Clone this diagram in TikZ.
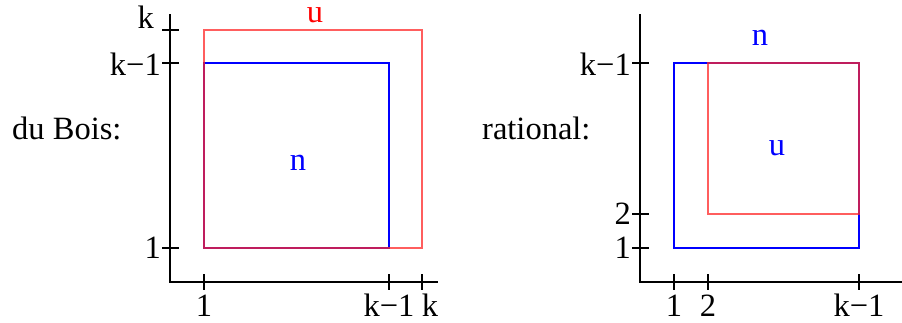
\documentclass[tikz,border=0pt]{standalone}
\usepackage{fontspec}
\setmainfont{Liberation Serif}
\begin{document}
\begin{tikzpicture}[x=1pt,y=-1pt,
  lbl/.style={font=\fontsize{32.5}{38}\selectfont, inner sep=0pt},
  axis/.style={draw=black, line width=1.8pt},
  tick/.style={draw=black, line width=1.5pt},
  bluebox/.style={draw={rgb,255:red,0;green,0;blue,255}, line width=1.6pt},
  redbox/.style={draw={rgb,255:red,255;green,40;blue,40}, line width=1.1pt, draw opacity=0.75}]
\useasboundingbox (0,0) rectangle (902,322);
% ---------- left panel ----------
\coordinate (LO) at (170,282);
\coordinate (LYT) at (170,14);
\coordinate (LXE) at (438,282);
\draw[axis] (LYT) -- (LO) -- (LXE);
\foreach \yy in {30,63,248}{\draw[tick] (162,\yy) -- (179,\yy);}
\foreach \xx in {204,389,422}{\draw[tick] (\xx,274) -- (\xx,290);}
\draw[bluebox] (204,63) rectangle (389,248);
\draw[redbox] (204,30) rectangle (422,248);
\node[lbl, anchor=base east] (lyk) at (154,28) {k};
\node[lbl, anchor=east] (lyk1) at (161,64) {k−1};
\node[lbl, anchor=east] (ly1) at (161,248) {1};
\node[lbl, anchor=base] (lx1) at (204,316) {1};
\node[lbl, anchor=base] (lxk1) at (389,316) {k−1};
\node[lbl, anchor=base] (lxk) at (430,316) {k};
\node[lbl, anchor=base, text height=0.45em, text={rgb,255:red,255;green,0;blue,0}] (lu) at (315,22) {u};
\node[lbl, anchor=base, text={rgb,255:red,0;green,0;blue,255}] (ln) at (298,170) {n};
\node[lbl, anchor=base west] (dub) at (12,139) {du Bois:};
% ---------- right panel ----------
\coordinate (RO) at (640,282);
\coordinate (RYT) at (640,14);
\coordinate (RXE) at (902,282);
\draw[axis] (RYT) -- (RO) -- (RXE);
\foreach \yy in {63,214,248}{\draw[tick] (632,\yy) -- (649,\yy);}
\foreach \xx in {674,708,859}{\draw[tick] (\xx,274) -- (\xx,290);}
\draw[bluebox] (674,63) rectangle (859,248);
\draw[redbox] (708,63) rectangle (859,214);
\node[lbl, anchor=east] (ryk1) at (631,64) {k−1};
\node[lbl, anchor=east] (ry2) at (631,214) {2};
\node[lbl, anchor=east] (ry1) at (631,248) {1};
\node[lbl, anchor=base] (rx1) at (674,316) {1};
\node[lbl, anchor=base] (rx2) at (708,316) {2};
\node[lbl, anchor=base] (rxk1) at (859,316) {k−1};
\node[lbl, anchor=base, text={rgb,255:red,0;green,0;blue,255}] (rn) at (760,45) {n};
\node[lbl, anchor=base, text={rgb,255:red,0;green,0;blue,255}] (ru) at (777,155) {u};
\node[lbl, anchor=base west] (rat) at (482,139) {rational:};
\end{tikzpicture}
\end{document}
